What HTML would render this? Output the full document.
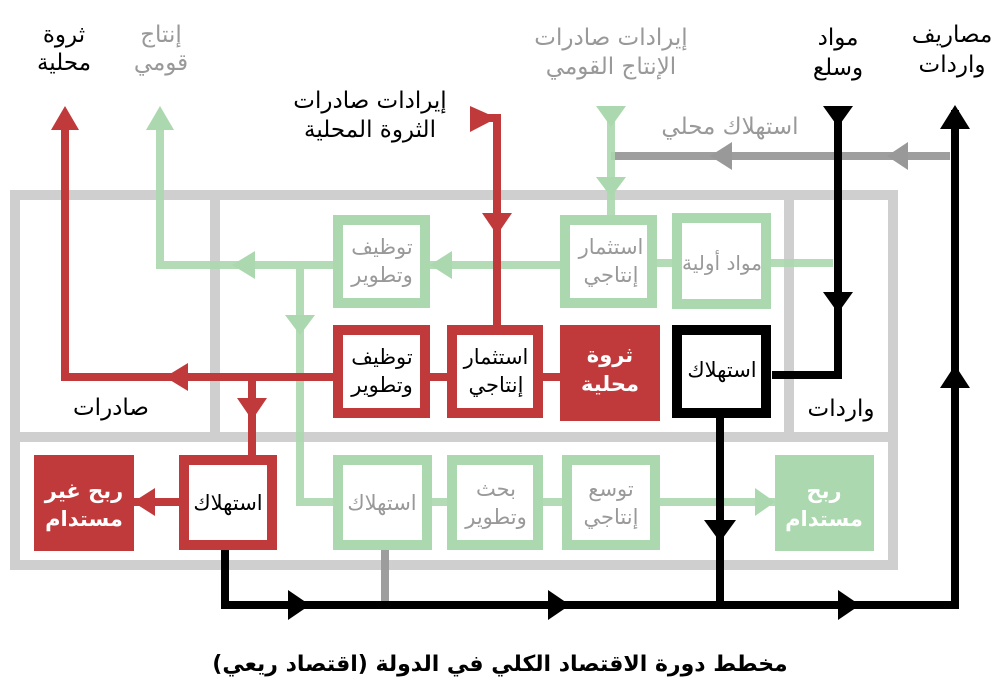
<!DOCTYPE html>
<html><head><meta charset="utf-8"><style>
body{margin:0;background:#fff}
svg{display:block}
text{font-family:"DejaVu Sans","Liberation Sans",sans-serif;text-anchor:middle}
</style></head><body>
<svg width="1000" height="700" viewBox="0 0 1000 700" xmlns="http://www.w3.org/2000/svg">
<g stroke="#cfcfcf" stroke-width="10" fill="none">
<rect x="15" y="195" width="878" height="370"/>
<line x1="15" y1="437" x2="893" y2="437"/>
<line x1="215" y1="195" x2="215" y2="437"/>
<line x1="789" y1="195" x2="789" y2="437"/>
</g>
<g stroke="#999" stroke-width="8" fill="none" opacity="0.95">
<line x1="611" y1="156" x2="950" y2="156"/>
<line x1="385" y1="550" x2="385" y2="605"/>
</g>
<g fill="#999"><polygon points="710,156 732,142 732,170"/><polygon points="887,156 908,142 908,170"/></g>
<g stroke="#abd8ae" stroke-width="8" fill="none" opacity="0.9">
<polyline points="160,118 160,265 333,265"/>
<polyline points="300,265 300,502 333,502"/>
<line x1="430" y1="265" x2="560" y2="265"/>
<line x1="657" y1="263" x2="672" y2="263"/>
<line x1="771" y1="263" x2="833" y2="263"/>
<line x1="611" y1="108" x2="611" y2="215"/>
<line x1="432" y1="502" x2="447" y2="502"/>
<line x1="543" y1="502" x2="562" y2="502"/>
<line x1="660" y1="502" x2="775" y2="502"/>
</g>
<g fill="#abd8ae">
<polygon points="160,106 146,130 174,130"/>
<polygon points="232,265 255,251 255,279"/>
<polygon points="430,265 452,251 452,279"/>
<polygon points="300,335 285,315 315,315"/>
<polygon points="611,127 596,106 626,106"/>
<polygon points="611,197 596,177 626,177"/>
<polygon points="775,502 755,488 755,516"/>
</g>
<g stroke="#c0393b" stroke-width="8" fill="none">
<polyline points="65,118 65,377 333,377"/>
<line x1="252" y1="377" x2="252" y2="455"/>
<line x1="430" y1="377" x2="447" y2="377"/>
<line x1="543" y1="377" x2="560" y2="377"/>
<polyline points="484,118 497,118 497,325"/>
<line x1="133" y1="502" x2="179" y2="502"/>
</g>
<g fill="#c0393b">
<polygon points="65,106 51,130 79,130"/>
<polygon points="165,377 188,363 188,391"/>
<polygon points="252,420 237,398 267,398"/>
<polygon points="497,235 482,213 512,213"/>
<polygon points="470,106 470,132 497,118"/>
<polygon points="133,502 155,488 155,516"/>
</g>
<g stroke="#000" stroke-width="8" fill="none">
<polyline points="838,108 838,375 772,375"/>
<line x1="720" y1="417" x2="720" y2="605"/>
<polyline points="225,550 225,605 955,605 955,110"/>
</g>
<g fill="#000">
<polygon points="838,127 823,106 853,106"/>
<polygon points="838,313 823,292 853,292"/>
<polygon points="720,542 704,520 736,520"/>
<polygon points="310,605 288,590 288,620"/>
<polygon points="570,605 548,590 548,620"/>
<polygon points="860,605 838,590 838,620"/>
<polygon points="955,105 940,129 970,129"/>
<polygon points="955,365 940,388 970,388"/>
</g>
<g fill="#fff" stroke-width="10">
<rect x="338" y="220" width="87" height="83" stroke="#abd8ae"/>
<rect x="565" y="220" width="87" height="83" stroke="#abd8ae"/>
<rect x="677" y="218" width="89" height="86" stroke="#abd8ae"/>
<rect x="338" y="330" width="87" height="83" stroke="#c0393b"/>
<rect x="452" y="330" width="86" height="83" stroke="#c0393b"/>
<rect x="677" y="330" width="89" height="83" stroke="#000"/>
<rect x="184" y="460" width="88" height="85" stroke="#c0393b"/>
<rect x="338" y="460" width="89" height="85" stroke="#abd8ae"/>
<rect x="452" y="460" width="86" height="85" stroke="#abd8ae"/>
<rect x="567" y="460" width="88" height="85" stroke="#abd8ae"/>
</g>
<rect x="560" y="325" width="100" height="96" fill="#c0393b"/>
<rect x="34" y="455" width="100" height="96" fill="#c0393b"/>
<rect x="775" y="455" width="99" height="96" fill="#abd8ae"/>
<g font-size="21">
<text x="382" y="254" fill="#999">توظيف</text><text x="382" y="282" fill="#999">وتطوير</text>
<text x="611" y="254" fill="#999">استثمار</text><text x="611" y="282" fill="#999">إنتاجي</text>
<text x="722" y="270" font-size="20" fill="#999">مواد أولية</text>
<text x="382" y="364" fill="#000">توظيف</text><text x="382" y="392" fill="#000">وتطوير</text>
<text x="496" y="364" fill="#000">استثمار</text><text x="496" y="392" fill="#000">إنتاجي</text>
<text x="722" y="377" fill="#000">استهلاك</text>
<text x="228" y="510" fill="#000">استهلاك</text>
<text x="382" y="510" fill="#999">استهلاك</text>
<text x="496" y="496" fill="#999">بحث</text><text x="496" y="524" fill="#999">وتطوير</text>
<text x="611" y="496" fill="#999">توسع</text><text x="611" y="524" fill="#999">إنتاجي</text>
</g>
<g font-size="21" font-weight="bold" fill="#fff">
<text x="610" y="362">ثروة</text><text x="610" y="391">محلية</text>
<text x="84" y="498">ربح غير</text><text x="84" y="526">مستدام</text>
<text x="824" y="498">ربح</text><text x="824" y="526">مستدام</text>
</g>
<g font-size="23">
<text x="64" y="42" fill="#000">ثروة</text><text x="64" y="70" fill="#000">محلية</text>
<text x="161" y="42" fill="#999">إنتاج</text><text x="161" y="70" fill="#999">قومي</text>
<text x="370" y="108" fill="#000">إيرادات صادرات</text><text x="370" y="137" fill="#000">الثروة المحلية</text>
<text x="611" y="45" fill="#999">إيرادات صادرات</text><text x="611" y="74" fill="#999">الإنتاج القومي</text>
<text x="838" y="45" fill="#000">مواد</text><text x="838" y="75" fill="#000">وسلع</text>
<text x="952" y="42" fill="#000">مصاريف</text><text x="952" y="72" fill="#000">واردات</text>
<text x="730" y="134" fill="#999">استهلاك محلي</text>
<text x="111" y="415" fill="#000">صادرات</text>
<text x="841" y="416" fill="#000">واردات</text>
</g>
<text x="500" y="671" font-size="22" font-weight="bold" fill="#000">مخطط دورة الاقتصاد الكلي في الدولة (اقتصاد ريعي)</text>
</svg>
</body></html>
